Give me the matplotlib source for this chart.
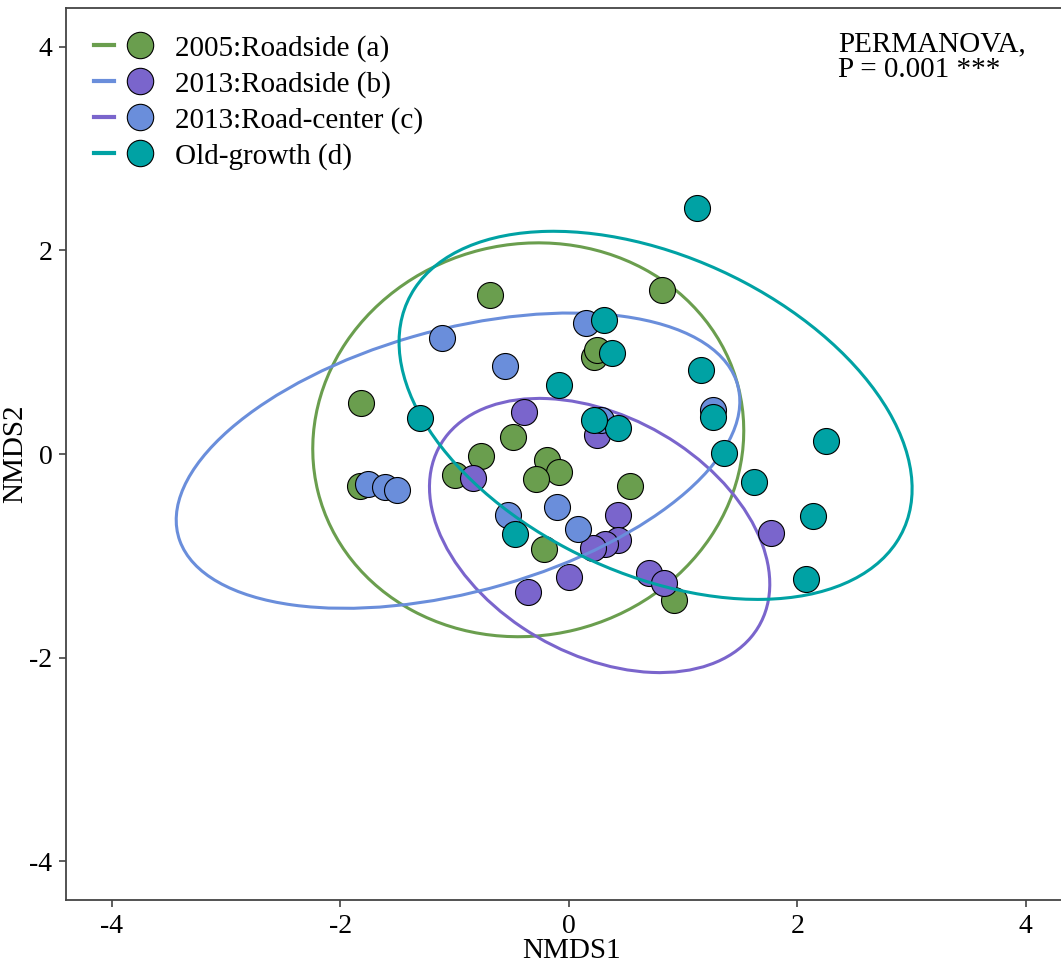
import numpy as np
import matplotlib
matplotlib.use("Agg")
from matplotlib import pyplot as plt
from matplotlib.patches import Ellipse
from matplotlib.lines import Line2D
from matplotlib.legend_handler import HandlerTuple

plt.rcParams['font.family'] = ['Liberation Serif', 'DejaVu Serif']
plt.rcParams['axes.unicode_minus'] = False

# NMDS scores
a_x = [-0.69, 0.82, -1.82, 0.22, 0.25, -0.49, -0.77, -1.00, -0.19, -0.09, -0.29, 0.54, -0.22, -1.83, 0.92]
a_y = [1.56, 1.61, 0.50, 0.95, 1.02, 0.17, -0.02, -0.21, -0.06, -0.18, -0.25, -0.31, -0.93, -0.31, -1.43]

b_x = [-0.39, -0.84, 0.25, 0.43, 0.43, 0.32, 0.21, 0.00, -0.36, 0.70, 0.83, 1.77]
b_y = [0.41, -0.24, 0.19, -0.60, -0.84, -0.88, -0.92, -1.21, -1.35, -1.17, -1.27, -0.78]

c_x = [-1.11, 0.15, -0.56, 1.26, 0.28, -1.76, -1.61, -1.50, -0.53, -0.10, 0.08]
c_y = [1.14, 1.29, 0.86, 0.43, 0.33, -0.29, -0.32, -0.35, -0.60, -0.52, -0.74]

d_x = [1.12, 0.31, 0.38, -0.09, -1.30, 1.16, 1.26, 0.43, 0.22, 1.36, 1.62, 2.25, 2.14, 2.08, -0.47]
d_y = [2.42, 1.32, 0.99, 0.68, 0.35, 0.83, 0.36, 0.26, 0.33, 0.01, -0.27, 0.13, -0.61, -1.23, -0.79]

# ellipses: centre x, centre y, semi-axis a, semi-axis b, angle (deg)
ell_a = (-0.355, 0.14, 1.96, 1.86, 59)
ell_b = (0.27, -0.80, 1.66, 1.13, -37)
ell_c = (-0.97, -0.065, 2.56, 1.28, 17.9)
ell_d = (0.76, 0.38, 2.45, 1.52, -30.6)

labels = ['2005:Roadside (a)', '2013:Roadside (b)', '2013:Road-center (c)', 'Old-growth (d)']

green = '#6a9e4e'
purple = '#7a65cc'
blue = '#6a8edb'
teal = '#00a2a4'

groups = [
    (a_x, a_y, ell_a, green),
    (b_x, b_y, ell_b, purple),
    (c_x, c_y, ell_c, blue),
    (d_x, d_y, ell_d, teal),
]

fig = plt.figure(figsize=(10.61, 9.68), dpi=100)
ax = fig.add_axes([0.0625, 0.0702, 0.9375, 0.9215])

z = 2
for xs, ys, (cx, cy, sa, sb, ang), col in groups:
    e = Ellipse((cx, cy), 2 * sa, 2 * sb, angle=ang, fill=False, edgecolor=col, lw=2.2, zorder=z)
    ax.add_patch(e)
    ax.scatter(xs, ys, s=350, c=col, edgecolors='black', linewidths=0.8, zorder=z + 1)
    z += 2

ax.set_xlim(-4.40, 4.31)
ax.set_ylim(-4.38, 4.38)
ax.set_xticks([-4, -2, 0, 2, 4])
ax.set_yticks([-4, -2, 0, 2, 4])
ax.tick_params(direction='out', length=5, width=1.1, labelsize=20, colors='#333333', labelcolor='black', pad=5)
ax.spines['right'].set_visible(False)
for s in ['left', 'bottom', 'top']:
    ax.spines[s].set_color('#444444')
    ax.spines[s].set_linewidth(1.3)

ax.set_xlabel('NMDS1', fontsize=21)
ax.set_ylabel('NMDS2', fontsize=21)
ax.xaxis.set_label_coords(0.508, -0.043)
ax.yaxis.set_label_coords(-0.038, 0.5)

ax.text(2.36, 4.15, 'PERMANOVA,\nP = 0.001 ***', fontsize=21, va='top', ha='left', linespacing=1.0)

# legend: line colour + point colour as in the original
line_cols = [green, blue, purple, teal]
pt_cols = [green, purple, blue, teal]
handles = []
for lc, pc in zip(line_cols, pt_cols):
    ln = Line2D([], [], color=lc, lw=3)
    mk = Line2D([], [], ls='', marker='o', markersize=19, markerfacecolor=pc, markeredgecolor='black', markeredgewidth=0.8)
    handles.append((ln, mk))

ax.legend(handles, labels, handler_map={tuple: HandlerTuple(ndivide=None, pad=0.55)},
          loc='upper left', bbox_to_anchor=(0.004, 0.996), frameon=False, fontsize=21,
          handlelength=1.95, handletextpad=0.85, labelspacing=0.31, borderpad=0.3)

fig.savefig('out.png', dpi=100)
